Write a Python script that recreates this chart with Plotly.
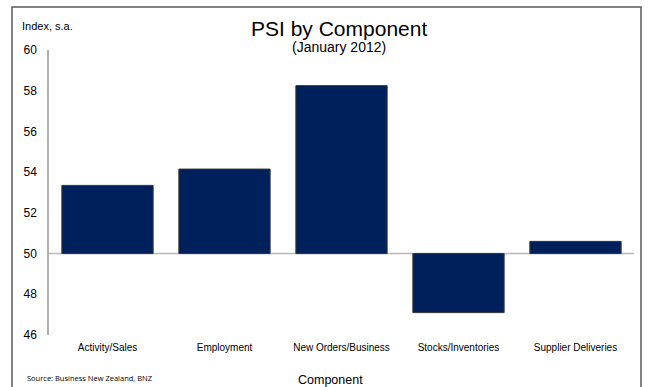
import plotly.graph_objects as go

categories = ["Activity/Sales", "Employment", "New Orders/Business", "Stocks/Inventories", "Supplier Deliveries"]
values = [53.35, 54.15, 58.25, 47.1, 50.6]
baseline = 50
y_ticks = [46, 48, 50, 52, 54, 56, 58, 60]

W, H = 649, 387
L, R, T, B = 49, 15, 50, 52
pw, ph = W - L - R, H - T - B

def px(x):
    return (x - L) / pw

def py(y):
    return (H - B - y) / ph

fig = go.Figure()
fig.add_trace(go.Bar(
    x=categories,
    y=[v - baseline for v in values],
    base=baseline,
    marker=dict(color="#00205c", line=dict(color="#333333", width=1)),
    width=0.78,
))

font = "Liberation Sans, Arial, sans-serif"
fig.update_layout(
    width=W, height=H,
    margin=dict(l=L, r=R, t=T, b=B),
    paper_bgcolor="white", plot_bgcolor="white",
    showlegend=False,
    font=dict(family=font, color="#000000"),
    xaxis=dict(showgrid=False, showline=False, ticks="", zeroline=False,
               tickfont=dict(size=10, family=font), ticklabelstandoff=5),
    yaxis=dict(range=[46, 60], tickvals=y_ticks, showgrid=False, zeroline=False,
               showline=True, linecolor="#b0b0b0", linewidth=1.5, ticks="",
               tickfont=dict(size=12, family=font), ticklabelstandoff=8),
    shapes=[
        dict(type="line", xref="paper", yref="y", x0=0, x1=1, y0=baseline, y1=baseline,
             line=dict(color="#b8b8b8", width=1.5), layer="below"),
        dict(type="rect", xref="paper", yref="paper", x0=px(12), x1=px(641), y0=py(7), y1=py(400),
             line=dict(color="#5a5a5a", width=1.5), layer="below"),
    ],
    annotations=[
        dict(text="PSI by Component", xref="paper", yref="paper", x=px(339), y=py(29),
             showarrow=False, font=dict(size=21, family=font), xanchor="center", yanchor="middle"),
        dict(text="(January 2012)", xref="paper", yref="paper", x=px(339), y=py(47),
             showarrow=False, font=dict(size=14, family=font), xanchor="center", yanchor="middle"),
        dict(text="Index, s.a.", xref="paper", yref="paper", x=px(20), y=py(26),
             showarrow=False, font=dict(size=11, family=font), xanchor="left", yanchor="middle"),
        dict(text="Component", xref="paper", yref="paper", x=px(330), y=py(380),
             showarrow=False, font=dict(size=12.5, family=font), xanchor="center", yanchor="middle"),
        dict(text="Source: Business New Zealand, BNZ", xref="paper", yref="paper", x=px(25), y=py(378),
             showarrow=False, font=dict(size=7.5, family="Open Sans, sans-serif"), xanchor="left", yanchor="middle"),
    ],
)

fig.write_html("out.html")
